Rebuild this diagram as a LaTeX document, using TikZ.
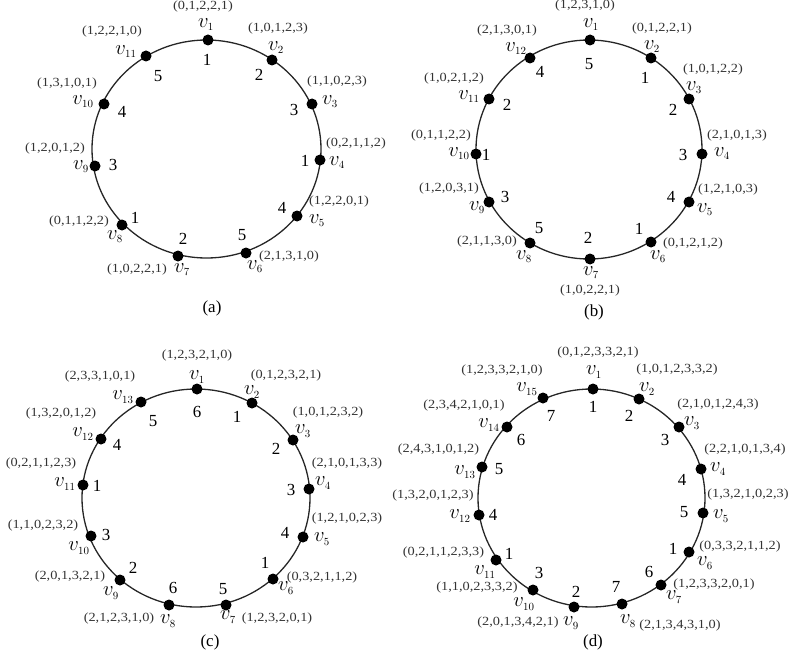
\documentclass[tikz,border=0pt]{standalone}
\usepackage{fontspec}
\setmainfont{Liberation Serif}
\newfontfamily\tuplefont[FakeStretch=1.15]{Liberation Serif}

\tikzset{
  ring/.style={line width=1.3bp, draw=black!85},
  dot/.style={circle, fill=black, inner sep=0pt, minimum size=11bp},
  vname/.style={inner sep=0pt, font=\fontsize{21}{21}\selectfont},
  tuple/.style={inner sep=0pt, text=black!80, font=\tuplefont\fontsize{12.5}{12.5}\selectfont},
  num/.style={inner sep=0pt, font=\fontsize{17}{17}\selectfont},
  caption/.style={inner sep=0pt, font=\fontsize{17}{17}\selectfont},
}

% vertex: name, dot position, v-label position, index, tuple position, tuple, number position, number
\newcommand\cvtx[8]{%
  \node[dot] (#1) at (#2) {};
  \node[vname] (#1v) at (#3) {$v_{\scriptscriptstyle #4}$};
  \node[tuple] (#1t) at (#5) {(#6)};
  \node[num] (#1n) at (#7) {#8};
}

\begin{document}
\begin{tikzpicture}[x=1bp, y=-1bp]
\useasboundingbox (0,0) rectangle (792,666);

% ---------- (a) cycle with 11 vertices ----------
\draw[ring] (206.5,149) ellipse [x radius=114.5bp, y radius=109bp];
\cvtx{a1}{208,40}{206,25}{1}{203,7}{0,1,2,2,1}{207,60}{1}
\cvtx{a2}{272,60}{276,48}{2}{278,29}{1,0,1,2,3}{259,75}{2}
\cvtx{a3}{312,104}{330,102}{3}{337,82}{1,1,0,2,3}{294,110}{3}
\cvtx{a4}{320,160}{337,163}{4}{356,144}{0,2,1,1,2}{305,161}{1}
\cvtx{a5}{297,216}{317,221}{5}{339,202}{1,2,2,0,1}{282,208}{4}
\cvtx{a6}{246,253}{255,267}{6}{289,257}{2,1,3,1,0}{242,235}{5}
\cvtx{a7}{178,256}{182,270}{7}{137,270}{1,0,2,2,1}{183,239}{2}
\cvtx{a8}{122,225}{115,237}{8}{79,222}{0,1,1,2,2}{135,218}{1}
\cvtx{a9}{95,166}{81,167}{9}{55,149}{1,2,0,1,2}{113,165}{3}
\cvtx{a10}{104,104}{83,102}{10}{67,84}{1,3,1,0,1}{122,112}{4}
\cvtx{a11}{146,56}{126,52}{11}{112,32}{1,2,2,1,0}{158,76}{5}
\node[caption] (capa) at (212,308) {(a)};

% ---------- (b) cycle with 12 vertices ----------
\draw[ring] (589,149.5) ellipse [x radius=113bp, y radius=109.5bp];
\cvtx{b1}{590,40}{591,25}{1}{585,6}{1,2,3,1,0}{589,64}{5}
\cvtx{b2}{651,58}{652,47}{2}{662,29}{0,1,2,2,1}{645,78}{1}
\cvtx{b3}{689,99}{694,88}{3}{713,70}{1,0,1,2,2}{673,110}{2}
\cvtx{b4}{702,154}{722,154}{4}{737,136}{2,1,0,1,3}{683,155}{3}
\cvtx{b5}{689,202}{705,210}{5}{728,190}{1,2,1,0,3}{671,197}{4}
\cvtx{b6}{651,242}{658,257}{6}{693,244}{0,1,2,1,2}{639,229}{1}
\cvtx{b7}{590,259}{591,273}{7}{590,291}{1,0,2,2,1}{588,238}{2}
\cvtx{b8}{530,243}{524,257}{8}{487,242}{2,1,1,3,0}{539,228}{5}
\cvtx{b9}{489,202}{477,208}{9}{449,189}{1,2,0,3,1}{505,197}{3}
\cvtx{b10}{476,154}{459,154}{10}{441,136}{0,1,1,2,2}{486,155}{1}
\cvtx{b11}{489,99}{469,97}{11}{454,79}{1,0,2,1,2}{507,105}{2}
\cvtx{b12}{530,58}{516,49}{12}{507,31}{2,1,3,0,1}{540,72}{4}
\node[caption] (capb) at (594,312) {(b)};

% ---------- (c) cycle with 13 vertices ----------
\draw[ring] (196,498) ellipse [x radius=114bp, y radius=109bp];
\cvtx{c1}{197,389}{197,377}{1}{197,356}{1,2,3,2,1,0}{197,412}{6}
\cvtx{c2}{252,403}{252,392}{2}{286,376}{0,1,2,3,2,1}{237,417}{1}
\cvtx{c3}{293,440}{303,431}{3}{328,413}{1,0,1,2,3,2}{276,449}{2}
\cvtx{c4}{309,489}{323,483}{4}{347,464}{2,1,0,1,3,3}{291,490}{3}
\cvtx{c5}{303,537}{322,539}{5}{347,519}{1,2,1,0,2,3}{285,533}{4}
\cvtx{c6}{273,579}{286,588}{6}{322,577}{0,3,2,1,1,2}{265,563}{1}
\cvtx{c7}{226,605}{228,617}{7}{277,618}{1,2,3,2,0,1}{223,589}{5}
\cvtx{c8}{169,605}{168,621}{8}{119,618}{2,1,2,3,1,0}{173,588}{6}
\cvtx{c9}{120,580}{111,593}{9}{70,576}{2,0,1,3,2,1}{133,568}{2}
\cvtx{c10}{91,536}{79,548}{10}{43,526}{1,1,0,2,3,2}{106,535}{3}
\cvtx{c11}{83,485}{65,484}{11}{41,464}{0,2,1,1,2,3}{97,486}{1}
\cvtx{c12}{101,439}{83,434}{12}{61,414}{1,3,2,0,1,2}{117,445}{4}
\cvtx{c13}{141,402}{123,397}{13}{100,377}{2,3,3,1,0,1}{153,421}{5}
\node[caption] (capc) at (210,642) {(c)};

% ---------- (d) cycle with 15 vertices ----------
\draw[ring] (591.5,498) ellipse [x radius=113.5bp, y radius=109bp];
\cvtx{d1}{593,389}{594,372}{1}{598,353}{0,1,2,3,3,2,1}{593,407}{1}
\cvtx{d2}{639,399}{647,389}{2}{677,370}{1,0,1,2,3,3,2}{629,416}{2}
\cvtx{d3}{679,427}{692,423}{3}{718,405}{2,1,0,1,2,4,3}{665,440}{3}
\cvtx{d4}{701,469}{718,469}{4}{745,450}{2,2,1,0,1,3,4}{682,480}{4}
\cvtx{d5}{703,513}{721,516}{5}{748,495}{1,3,2,1,0,2,3}{684,512}{5}
\cvtx{d6}{689,552}{705,563}{6}{740,546}{0,3,3,2,1,1,2}{673,549}{1}
\cvtx{d7}{661,585}{674,597}{7}{714,584}{1,2,3,3,2,0,1}{649,572}{6}
\cvtx{d8}{622,604}{628,621}{8}{680,625}{2,1,3,4,3,1,0}{616,587}{7}
\cvtx{d9}{574,607}{571,623}{9}{518,622}{2,0,1,3,4,2,1}{576,592}{2}
\cvtx{d10}{533,590}{524,604}{10}{477,587}{1,1,0,2,3,3,2}{539,573}{3}
\cvtx{d11}{496,560}{485,572}{11}{443.5,552}{0,2,1,1,2,3,3}{509,554}{1}
\cvtx{d12}{479,515}{460,516}{12}{433,496}{1,3,2,0,1,2,3}{493,515}{4}
\cvtx{d13}{482,467}{465,472}{13}{438.5,450}{2,4,3,1,0,1,2}{499,469}{5}
\cvtx{d14}{507,427}{489,425}{14}{464,406}{2,3,4,2,1,0,1}{521,440}{6}
\cvtx{d15}{543,398}{527,389}{15}{502,371}{1,2,3,3,2,1,0}{551,416}{7}
\node[caption] (capd) at (593,642) {(d)};

\end{tikzpicture}
\end{document}
